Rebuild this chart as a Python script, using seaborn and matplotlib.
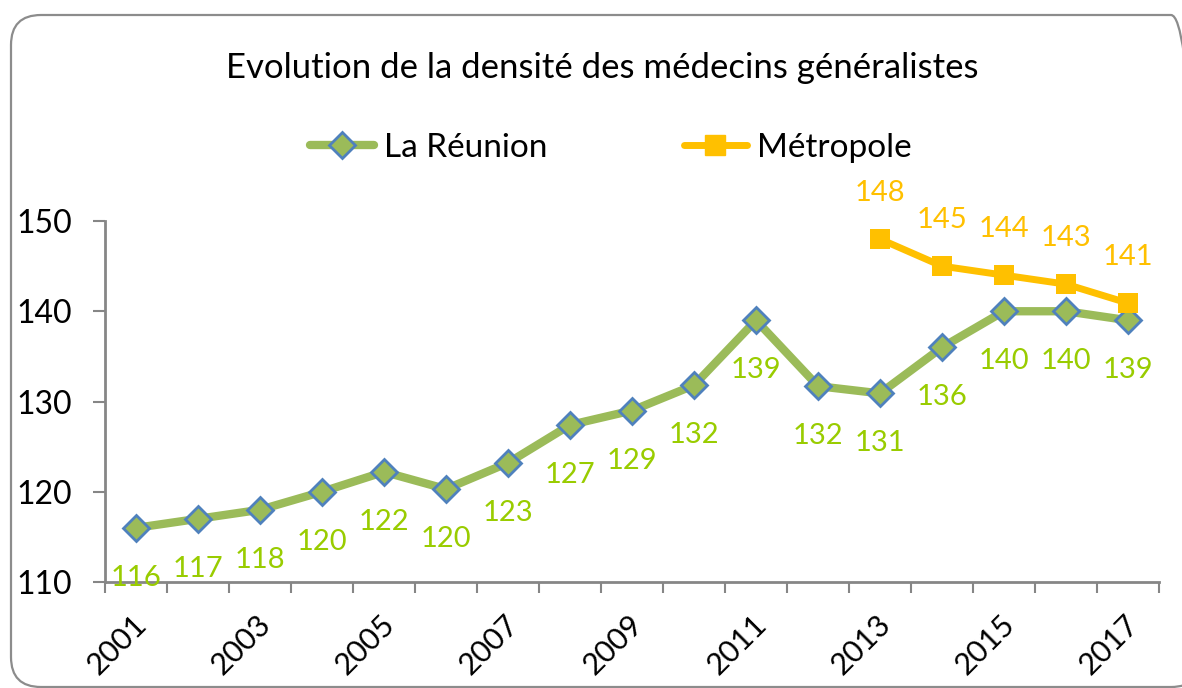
import pandas as pd
import seaborn as sns
import matplotlib.pyplot as plt
import matplotlib.transforms as mtransforms
from matplotlib.patches import FancyBboxPatch
from matplotlib.lines import Line2D

# --- données ---
years = list(range(2001, 2018))
reunion = [116.0, 117.0, 118.0, 120.0, 122.2, 120.3, 123.2, 127.4, 129.0,
           131.8, 139.0, 131.7, 130.9, 136.0, 140.0, 140.0, 139.0]
metropole_years = [2013, 2014, 2015, 2016, 2017]
metropole = [148.0, 145.0, 144.0, 143.0, 140.9]
yticks = [110, 120, 130, 140, 150]

title = "Evolution de la densité des médecins généralistes"
green = "#9BBB59"
blue = "#4F81BD"
label_green = "#99CC00"
orange = "#FFC000"
axis_gray = "#868686"

df_reu = pd.DataFrame({"pos": [y - years[0] for y in years], "val": reunion})
df_met = pd.DataFrame({"pos": [y - years[0] for y in metropole_years], "val": metropole})

sns.set_style("white")
plt.rcParams["font.family"] = ["Lato", "DejaVu Sans"]
plt.rcParams["text.color"] = "black"
plt.rcParams["xtick.color"] = "black"
plt.rcParams["ytick.color"] = "black"

fig = plt.figure(figsize=(11.82, 6.88), dpi=100)
ax = fig.add_axes([105 / 1182, 1 - 582 / 688, (1159 - 105) / 1182, (582 - 221) / 688])

sns.lineplot(data=df_reu, x="pos", y="val", ax=ax, color=green, lw=6,
             marker="D", markersize=13, markerfacecolor=green,
             markeredgecolor=blue, markeredgewidth=2, legend=False)
sns.lineplot(data=df_met, x="pos", y="val", ax=ax, color=orange, lw=5,
             marker="s", markersize=14, markerfacecolor=orange,
             markeredgecolor=orange, markeredgewidth=0, legend=False)

# étiquettes de données
for x, v in zip(df_reu["pos"], df_reu["val"]):
    ax.annotate(f"{v:.0f}", (x, v), xytext=(0, -36), textcoords="offset points",
                ha="center", va="center", color=label_green, fontsize=21)
for x, v in zip(df_met["pos"], df_met["val"]):
    ax.annotate(f"{v:.0f}", (x, v), xytext=(0, 33), textcoords="offset points",
                ha="center", va="center", color=orange, fontsize=21,
                annotation_clip=False)

# axes
ax.set_xlim(-0.5, len(years) - 0.5)
ax.set_ylim(110, 150)
ax.set_xticks(range(0, len(years), 2))
ax.set_xticklabels([str(y) for y in years[::2]], rotation=45, ha="right",
                   rotation_mode="anchor")
ax.set_xticks([i - 0.5 for i in range(len(years) + 1)], minor=True)
ax.tick_params(axis="x", which="major", length=0, pad=20, labelsize=22,
               labelcolor="black")
ax.tick_params(axis="x", which="minor", length=8, width=1.5, color=axis_gray,
               direction="out", bottom=True)
shift = mtransforms.ScaledTranslation(-4 / 100, 0, fig.dpi_scale_trans)
for lab in ax.get_xticklabels():
    lab.set_transform(lab.get_transform() + shift)
ax.set_yticks(yticks)
ax.tick_params(axis="y", length=9, width=1.5, color=axis_gray, pad=15,
               labelsize=23, labelcolor="black", direction="out", left=True)
ax.set_xlabel("")
ax.set_ylabel("")
for side in ["top", "right"]:
    ax.spines[side].set_visible(False)
for side in ["left", "bottom"]:
    ax.spines[side].set_color(axis_gray)
    ax.spines[side].set_linewidth(2)

# titre et légende
fig.text(602 / 1182, 1 - 68 / 688, title, ha="center", va="center", fontsize=25)
handles = [
    Line2D([], [], color=green, lw=6, marker="D", markersize=13,
           markerfacecolor=green, markeredgecolor=blue, markeredgewidth=2),
    Line2D([], [], color=orange, lw=5, marker="s", markersize=14,
           markerfacecolor=orange, markeredgecolor=orange),
]
fig.legend(handles, ["La Réunion", "Métropole"], loc="center",
           bbox_to_anchor=(611 / 1182, 1 - 148 / 688), ncol=2, frameon=False,
           fontsize=24, handlelength=1.9, handletextpad=0.3, columnspacing=4.1)

# cadre arrondi
frame = FancyBboxPatch((0.11, 0.01), 11.9, 6.72,
                       boxstyle="round,pad=0,rounding_size=0.3",
                       transform=fig.dpi_scale_trans, facecolor="none",
                       edgecolor="#8C8C8C", lw=1.6, zorder=0)
fig.patches.append(frame)

fig.savefig("out.png", dpi=100)
